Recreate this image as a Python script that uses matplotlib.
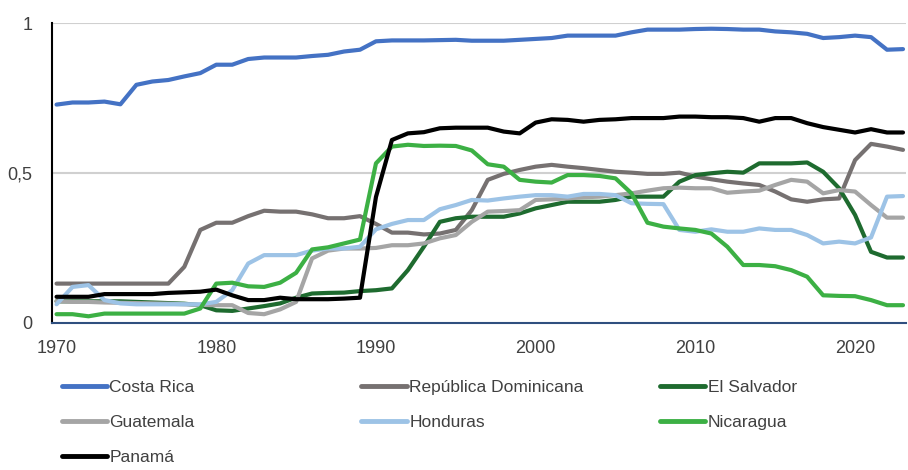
import numpy as np
import matplotlib.pyplot as plt
from matplotlib.lines import Line2D

years = list(range(1970, 2024))

costa_rica = [0.728, 0.735, 0.735, 0.738, 0.729, 0.794, 0.805, 0.810, 0.822, 0.833,
              0.861, 0.861, 0.880, 0.885, 0.885, 0.885, 0.890, 0.894, 0.905, 0.911,
              0.939, 0.942, 0.942, 0.942, 0.943, 0.944, 0.941, 0.941, 0.941, 0.944,
              0.947, 0.950, 0.958, 0.958, 0.958, 0.958, 0.969, 0.978, 0.978, 0.978,
              0.980, 0.981, 0.980, 0.978, 0.978, 0.972, 0.969, 0.964, 0.950, 0.953,
              0.958, 0.953, 0.911, 0.913]

rep_dominicana = [0.131, 0.131, 0.131, 0.131, 0.131, 0.131, 0.131, 0.131, 0.187, 0.310,
                  0.334, 0.334, 0.356, 0.374, 0.371, 0.371, 0.362, 0.349, 0.349, 0.356,
                  0.330, 0.301, 0.301, 0.295, 0.298, 0.310, 0.376, 0.477, 0.497, 0.510,
                  0.521, 0.527, 0.521, 0.516, 0.510, 0.504, 0.501, 0.497, 0.497, 0.501,
                  0.488, 0.479, 0.471, 0.465, 0.460, 0.438, 0.412, 0.404, 0.412, 0.415,
                  0.543, 0.597, 0.588, 0.577]

el_salvador = [0.072, 0.072, 0.072, 0.072, 0.072, 0.070, 0.068, 0.066, 0.064, 0.059,
               0.042, 0.040, 0.048, 0.056, 0.065, 0.084, 0.098, 0.100, 0.101, 0.106,
               0.109, 0.115, 0.176, 0.254, 0.337, 0.349, 0.354, 0.354, 0.354, 0.365,
               0.382, 0.393, 0.404, 0.404, 0.404, 0.410, 0.421, 0.421, 0.421, 0.471,
               0.493, 0.499, 0.504, 0.501, 0.532, 0.532, 0.532, 0.535, 0.504, 0.449,
               0.360, 0.237, 0.218, 0.218]

guatemala = [0.072, 0.070, 0.070, 0.068, 0.067, 0.066, 0.065, 0.064, 0.062, 0.060,
             0.059, 0.059, 0.033, 0.029, 0.045, 0.070, 0.215, 0.241, 0.248, 0.248,
             0.250, 0.259, 0.259, 0.265, 0.282, 0.293, 0.337, 0.371, 0.373, 0.376,
             0.410, 0.412, 0.415, 0.419, 0.421, 0.426, 0.432, 0.441, 0.449, 0.451,
             0.449, 0.449, 0.434, 0.438, 0.441, 0.460, 0.477, 0.471, 0.432, 0.443,
             0.438, 0.393, 0.351, 0.351]

honduras = [0.062, 0.120, 0.126, 0.076, 0.065, 0.062, 0.062, 0.062, 0.062, 0.062,
            0.070, 0.109, 0.198, 0.226, 0.226, 0.226, 0.241, 0.248, 0.248, 0.254,
            0.312, 0.330, 0.343, 0.343, 0.379, 0.393, 0.410, 0.408, 0.415, 0.421,
            0.426, 0.426, 0.421, 0.430, 0.430, 0.426, 0.399, 0.397, 0.396, 0.310,
            0.304, 0.312, 0.304, 0.304, 0.315, 0.310, 0.310, 0.293, 0.265, 0.271,
            0.265, 0.285, 0.421, 0.423]

nicaragua = [0.029, 0.029, 0.022, 0.031, 0.031, 0.031, 0.031, 0.031, 0.031, 0.048,
             0.131, 0.134, 0.122, 0.120, 0.134, 0.167, 0.245, 0.252, 0.265, 0.278,
             0.532, 0.588, 0.594, 0.590, 0.591, 0.590, 0.575, 0.529, 0.521, 0.477,
             0.471, 0.468, 0.493, 0.493, 0.490, 0.482, 0.432, 0.334, 0.321, 0.315,
             0.310, 0.298, 0.254, 0.193, 0.193, 0.189, 0.176, 0.154, 0.092, 0.090,
             0.089, 0.076, 0.059, 0.059]

panama = [0.087, 0.087, 0.087, 0.096, 0.096, 0.096, 0.096, 0.100, 0.102, 0.104,
          0.111, 0.092, 0.076, 0.076, 0.084, 0.079, 0.079, 0.079, 0.081, 0.084,
          0.420, 0.610, 0.632, 0.636, 0.649, 0.651, 0.651, 0.651, 0.638, 0.632,
          0.668, 0.679, 0.677, 0.671, 0.677, 0.679, 0.683, 0.683, 0.683, 0.688,
          0.688, 0.686, 0.686, 0.683, 0.671, 0.683, 0.683, 0.666, 0.653, 0.644,
          0.635, 0.646, 0.635, 0.635]

labels = ['Costa Rica', 'República Dominicana', 'El Salvador', 'Guatemala',
          'Honduras', 'Nicaragua', 'Panamá']
series = [costa_rica, rep_dominicana, el_salvador, guatemala, honduras, nicaragua, panama]
colors = ['#4472c4', '#767171', '#1e6b2f', '#a5a5a5', '#9dc3e6', '#3cb044', '#000000']

plt.rcParams['font.family'] = ['Liberation Sans', 'DejaVu Sans']

fig = plt.figure(figsize=(9.08, 4.70), dpi=100)
ax = fig.add_axes([0.057, 0.313, 0.941, 0.638])

for y in [0.5, 1.0]:
    ax.axhline(y, color='#d0d0d0', lw=1.5, zorder=0)

for s, c in zip(series, colors):
    ax.plot(years, s, color=c, lw=3.0, solid_capstyle='round', solid_joinstyle='round')

ax.set_xlim(1969.7, 2023.2)
ax.set_ylim(0, 1)
ax.set_xticks([1970, 1980, 1990, 2000, 2010, 2020])
ax.set_yticks([0, 0.5, 1])
ax.set_yticklabels(['0', '0,5', '1'])
ax.tick_params(axis='both', length=0, labelsize=13, labelcolor='#404040')
ax.tick_params(axis='y', pad=14)
ax.tick_params(axis='x', pad=12)

for side in ['top', 'right']:
    ax.spines[side].set_visible(False)
ax.spines['left'].set_color('black')
ax.spines['left'].set_linewidth(1.5)
ax.spines['bottom'].set_color('#2f4f7f')
ax.spines['bottom'].set_linewidth(1.5)

# legend in three columns, row-major order like the original
cols = [[0, 3, 6], [1, 4], [2, 5]]
xs = [0.068, 0.398, 0.727]
for idx, x0 in zip(cols, xs):
    handles = [Line2D([], [], color=colors[i], lw=3.5, solid_capstyle='round') for i in idx]
    fig.legend(handles, [labels[i] for i in idx], loc='upper left',
               bbox_to_anchor=(x0, 0.192),
               frameon=False, fontsize=12.5, handlelength=2.6, handletextpad=0.15,
               labelspacing=1.15, borderaxespad=0, borderpad=0, labelcolor='#404040')

fig.savefig('out.png', dpi=100)
